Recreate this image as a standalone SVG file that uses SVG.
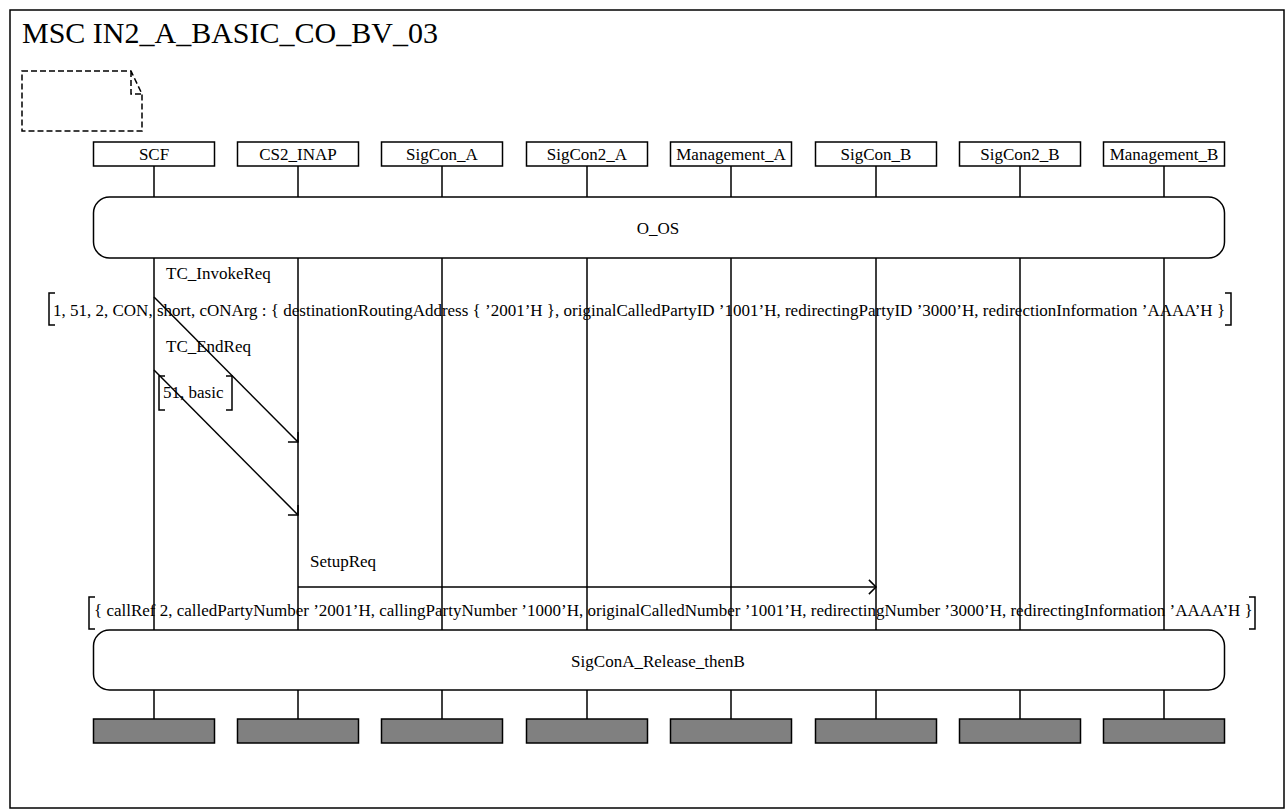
<svg xmlns="http://www.w3.org/2000/svg" width="1286" height="811" viewBox="0 0 1286 811">
<style>
text{font-family:"Liberation Serif","Times New Roman",serif;font-size:17px;fill:#000}
.c{text-anchor:middle}
.box{fill:#fff;stroke:#000;stroke-width:1.5}
.end{fill:#808080;stroke:#000;stroke-width:1.5}
.ln{stroke:#000;stroke-width:1.5;fill:none}
.ref{fill:#fff;stroke:#000;stroke-width:1.5}
.msg{stroke:#000;stroke-width:1.5;fill:none;marker-end:url(#arr)}
</style>
<defs>
<marker id="arr" markerUnits="userSpaceOnUse" viewBox="0 0 20 20" refX="10" refY="10" markerWidth="20" markerHeight="20" orient="auto" overflow="visible">
<path d="M2.9,2.9 L10,10 L2.9,17.1" fill="none" stroke="#000" stroke-width="1.5"/>
</marker>
</defs>
<rect x="0" y="0" width="1286" height="811" fill="#fff"/>
<g id="frame">
<rect x="10" y="10" width="1274" height="798" fill="none" stroke="#000" stroke-width="1.5"/>
<text x="22" y="43" style="font-size:30px">MSC IN2_A_BASIC_CO_BV_03</text>
</g>
<g id="comment">
<path d="M22,71 L131,71 L142,94 L142,131 L22,131 Z M131,71 L131,94 L142,94" fill="none" stroke="#000" stroke-width="1.5" stroke-dasharray="6,3"/>
</g>
<g id="lifelines">
<g id="SCF"><rect class="box" x="93.5" y="142" width="121" height="24"/><text class="c" x="154" y="160">SCF</text><path class="ln" d="M154,166V197M154,258V630M154,690V719"/><rect class="end" x="93.5" y="719" width="121" height="24"/></g>
<g id="CS2_INAP"><rect class="box" x="237.5" y="142" width="121" height="24"/><text class="c" x="298" y="160">CS2_INAP</text><path class="ln" d="M298,166V197M298,258V630M298,690V719"/><rect class="end" x="237.5" y="719" width="121" height="24"/></g>
<g id="SigCon_A"><rect class="box" x="381.5" y="142" width="121" height="24"/><text class="c" x="442" y="160">SigCon_A</text><path class="ln" d="M442,166V197M442,258V630M442,690V719"/><rect class="end" x="381.5" y="719" width="121" height="24"/></g>
<g id="SigCon2_A"><rect class="box" x="526.5" y="142" width="121" height="24"/><text class="c" x="587" y="160">SigCon2_A</text><path class="ln" d="M587,166V197M587,258V630M587,690V719"/><rect class="end" x="526.5" y="719" width="121" height="24"/></g>
<g id="Management_A"><rect class="box" x="670.5" y="142" width="121" height="24"/><text class="c" x="731" y="160">Management_A</text><path class="ln" d="M731,166V197M731,258V630M731,690V719"/><rect class="end" x="670.5" y="719" width="121" height="24"/></g>
<g id="SigCon_B"><rect class="box" x="815.5" y="142" width="121" height="24"/><text class="c" x="876" y="160">SigCon_B</text><path class="ln" d="M876,166V197M876,258V630M876,690V719"/><rect class="end" x="815.5" y="719" width="121" height="24"/></g>
<g id="SigCon2_B"><rect class="box" x="959.5" y="142" width="121" height="24"/><text class="c" x="1020" y="160">SigCon2_B</text><path class="ln" d="M1020,166V197M1020,258V630M1020,690V719"/><rect class="end" x="959.5" y="719" width="121" height="24"/></g>
<g id="Management_B"><rect class="box" x="1103.5" y="142" width="121" height="24"/><text class="c" x="1164" y="160">Management_B</text><path class="ln" d="M1164,166V197M1164,258V630M1164,690V719"/><rect class="end" x="1103.5" y="719" width="121" height="24"/></g>
</g>
<g id="ref_O_OS">
<rect class="ref" x="93.5" y="197" width="1131" height="61" rx="16" ry="16"/>
<text class="c" x="658" y="234">O_OS</text>
</g>
<g id="ref_SigConA_Release_thenB">
<rect class="ref" x="93.5" y="630" width="1131" height="60" rx="16" ry="16"/>
<text class="c" x="658" y="667">SigConA_Release_thenB</text>
</g>
<g id="connectors">
<g id="msg_TC_InvokeReq">
<line class="msg" x1="154" y1="297" x2="298" y2="442"/>
<text x="166" y="279">TC_InvokeReq</text>
<path class="ln" d="M55,293H49V325H55M1225,293H1231V325H1225"/>
<text x="53" y="316">1, 51, 2, CON, short, cONArg : { destinationRoutingAddress { ’2001’H }, originalCalledPartyID ’1001’H, redirectingPartyID ’3000’H, redirectionInformation ’AAAA’H }</text>
</g>
<g id="msg_TC_EndReq">
<line class="msg" x1="154" y1="370" x2="298" y2="515"/>
<text x="166" y="352">TC_EndReq</text>
<path class="ln" d="M165,376H159V410H165M226,376H232V410H226"/>
<text x="163" y="398">51, basic</text>
</g>
<g id="msg_SetupReq">
<line class="msg" x1="298" y1="587" x2="876" y2="587"/>
<text x="310" y="567">SetupReq</text>
<path class="ln" d="M95,597H89V629H95M1249,597H1255V629H1249"/>
<text x="94" y="616">{ callRef 2, calledPartyNumber ’2001’H, callingPartyNumber ’1000’H, originalCalledNumber ’1001’H, redirectingNumber ’3000’H, redirectingInformation ’AAAA’H }</text>
</g>
</g>
</svg>
